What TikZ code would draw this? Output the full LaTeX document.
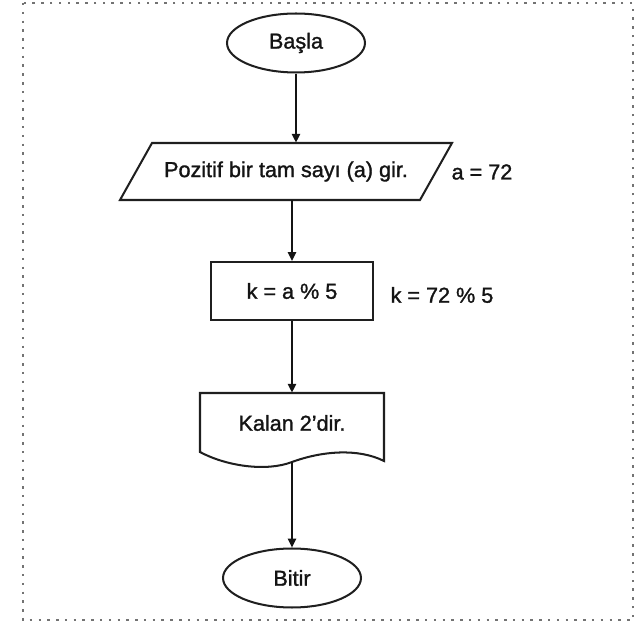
\documentclass[tikz,border=0pt]{standalone}
\usepackage{fontspec}
\setmainfont{Liberation Sans}[FakeBold=1.3]
\usetikzlibrary{shapes.geometric,arrows.meta,calc}
\begin{document}
\begin{tikzpicture}[x=0.02cm,y=-0.02cm,
  every node/.style={font=\fontsize{12.3}{14}\selectfont, text=black!92},
  outline/.style={draw=black!88, line width=1.15pt},
  terminal/.style={outline, ellipse, minimum width=2.76cm, minimum height=1.18cm, inner sep=0pt},
  procbox/.style={outline, rectangle, minimum width=3.24cm, minimum height=1.16cm, inner sep=0pt},
  slot/.style={rectangle, inner sep=0pt},
  flow/.style={draw=black!92, line width=1.4pt, -{Triangle[length=5pt,width=4.6pt]}},
  note/.style={inner sep=0pt},
  frame/.style={draw=black!55, line width=1.3pt, dash pattern=on 1.4pt off 3.6pt}]

\useasboundingbox (0,0) rectangle (643,628);
% dotted frame around the whole flowchart
\draw[frame] (23,3) rectangle (633,620);

% start terminal
\node[terminal] (start) at (296,43) {Başla};

% input parallelogram
\coordinate (pbl) at (120,200);
\coordinate (ptl) at (152,143);
\coordinate (ptr) at (452,143);
\coordinate (pbr) at (420,200);
\draw[outline] (pbl) -- (ptl) -- (ptr) -- (pbr) -- cycle;
\node[slot, minimum height=1.14cm] (inp) at (286,171.5) {Pozitif bir tam sayı (a) gir.};
\node[note] (anote) at (482,172) {a = 72};

% process box
\node[procbox] (calc) at (292,291) {k = a \% 5};
\node[note] (knote) at (442,295) {k = 72 \% 5};

% output (document) shape with wavy bottom
\node[slot, minimum width=3.68cm, minimum height=1.2cm] (doc) at (292,423) {Kalan 2'dir.};
\coordinate (docb) at (292,462);
\draw[outline] (200,393) -- (384,393) -- (384,461)
  .. controls (358,448) and (322,451) .. (docb)
  .. controls (266,472) and (226,466) .. (200,452) -- cycle;

% end terminal
\node[terminal] (end) at (292,578) {Bitir};

% connectors
\draw[flow] (start.south) -- (start.south |- inp.north);
\draw[flow] (calc.north |- inp.south) -- (calc.north);
\draw[flow] (calc.south) -- (calc.south |- doc.north);
\draw[flow] (docb) -- (end.north);
\end{tikzpicture}
\end{document}
